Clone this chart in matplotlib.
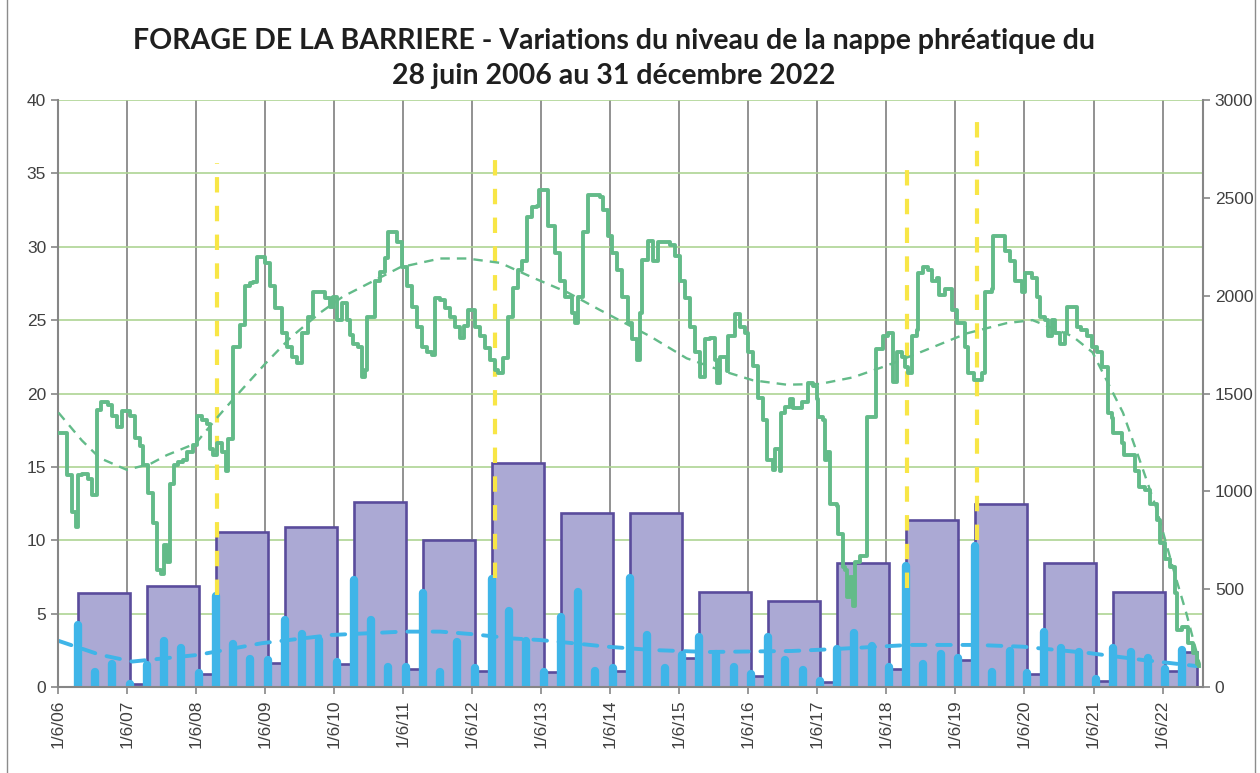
import numpy as np
import matplotlib
matplotlib.use('Agg')
import matplotlib.pyplot as plt
from matplotlib.lines import Line2D

# ---- data (x in decimal years) ----
TITLE = ('FORAGE DE LA BARRIERE - Variations du niveau de la nappe phréatique du\n'
         '28 juin 2006 au 31 décembre 2022')

year_ticks = list(range(2006, 2023))
tick_labels = ['1/6/%02d' % (y % 100) for y in year_ticks]

# water level (left axis), step changes
level_points = [
    (2006.42, 17.3), (2006.55, 14.45), (2006.62, 11.9), (2006.68, 10.9), (2006.71, 14.45),
    (2006.76, 14.5), (2006.85, 14.2), (2006.91, 13.1), (2006.98, 18.9), (2007.04, 19.4),
    (2007.14, 19.2), (2007.20, 18.5), (2007.27, 17.7), (2007.34, 18.8), (2007.46, 18.5),
    (2007.53, 17.0), (2007.60, 16.4), (2007.65, 15.1), (2007.72, 13.2), (2007.79, 11.2),
    (2007.85, 8.0), (2007.91, 7.7), (2007.95, 9.7), (2007.99, 8.5), (2008.04, 13.8),
    (2008.10, 15.1), (2008.15, 15.3), (2008.23, 15.5), (2008.28, 16.0), (2008.37, 16.5),
    (2008.43, 18.5), (2008.50, 18.2), (2008.57, 17.9), (2008.62, 16.2), (2008.66, 15.8),
    (2008.72, 16.6), (2008.79, 16.0), (2008.85, 14.7), (2008.88, 16.9), (2008.95, 23.2),
    (2009.05, 24.7), (2009.12, 27.3), (2009.20, 27.5), (2009.24, 27.6), (2009.30, 29.3),
    (2009.41, 28.9), (2009.49, 27.3), (2009.56, 25.8), (2009.66, 24.1), (2009.73, 23.2),
    (2009.80, 22.5), (2009.88, 22.1), (2009.95, 24.1), (2010.04, 25.2), (2010.11, 26.9),
    (2010.21, 26.9), (2010.28, 26.5), (2010.35, 25.9), (2010.40, 26.6), (2010.46, 25.0),
    (2010.53, 26.2), (2010.60, 25.0), (2010.64, 24.0), (2010.69, 23.4), (2010.76, 23.2),
    (2010.82, 21.1), (2010.86, 21.6), (2010.89, 25.2), (2011.01, 27.7), (2011.08, 28.3),
    (2011.15, 29.2), (2011.19, 31.0), (2011.32, 30.3), (2011.40, 28.6), (2011.47, 27.3),
    (2011.54, 25.9), (2011.61, 24.5), (2011.69, 23.2), (2011.76, 22.8), (2011.83, 22.6),
    (2011.87, 26.5), (2011.95, 26.4), (2012.02, 25.8), (2012.09, 25.2), (2012.16, 24.5),
    (2012.24, 23.8), (2012.30, 24.6), (2012.35, 25.7), (2012.45, 24.5), (2012.53, 23.9),
    (2012.60, 23.1), (2012.67, 22.3), (2012.74, 21.6), (2012.79, 21.4), (2012.86, 22.4),
    (2012.93, 25.2), (2013.00, 27.2), (2013.08, 28.4), (2013.13, 29.0), (2013.21, 32.0),
    (2013.28, 32.7), (2013.35, 32.8), (2013.38, 33.9), (2013.51, 31.4), (2013.61, 29.6),
    (2013.69, 27.7), (2013.76, 26.6), (2013.86, 25.5), (2013.90, 24.8), (2013.95, 26.6),
    (2014.02, 31.0), (2014.09, 33.5), (2014.27, 33.4), (2014.31, 32.5), (2014.38, 30.7),
    (2014.44, 29.6), (2014.51, 28.4), (2014.58, 26.6), (2014.67, 24.8), (2014.73, 23.7),
    (2014.80, 22.3), (2014.84, 25.5), (2014.87, 29.1), (2014.96, 30.4), (2015.03, 29.0),
    (2015.10, 30.3), (2015.28, 30.1), (2015.35, 29.4), (2015.42, 27.7), (2015.50, 26.5),
    (2015.57, 24.5), (2015.64, 22.8), (2015.71, 21.1), (2015.78, 23.7), (2015.86, 23.8),
    (2015.93, 22.3), (2015.96, 20.7), (2016.00, 22.5), (2016.10, 21.5), (2016.12, 23.9),
    (2016.22, 25.4), (2016.29, 24.5), (2016.36, 24.1), (2016.41, 22.8), (2016.48, 21.9),
    (2016.55, 19.7), (2016.62, 18.2), (2016.68, 15.5), (2016.77, 14.8), (2016.80, 16.2),
    (2016.87, 14.7), (2016.88, 18.7), (2016.94, 19.1), (2017.02, 19.6), (2017.06, 19.0),
    (2017.19, 19.4), (2017.28, 20.7), (2017.35, 20.5), (2017.41, 19.6), (2017.42, 18.4),
    (2017.49, 18.2), (2017.52, 15.5), (2017.56, 16.0), (2017.59, 12.5), (2017.70, 12.3),
    (2017.71, 10.4), (2017.78, 8.2), (2017.81, 8.0), (2017.84, 6.1), (2017.88, 7.5),
    (2017.93, 5.5), (2017.96, 8.5), (2018.03, 8.9), (2018.14, 18.4), (2018.27, 23.0),
    (2018.36, 23.9), (2018.43, 24.1), (2018.51, 20.8), (2018.57, 22.8), (2018.64, 22.5),
    (2018.68, 21.8), (2018.73, 21.4), (2018.78, 23.9), (2018.86, 24.3), (2018.87, 28.2),
    (2018.94, 28.6), (2019.01, 28.4), (2019.07, 27.7), (2019.14, 27.9), (2019.18, 26.7),
    (2019.26, 27.1), (2019.37, 25.7), (2019.43, 24.8), (2019.55, 23.2), (2019.59, 21.4),
    (2019.69, 20.9), (2019.80, 21.4), (2019.84, 26.9), (2019.94, 27.1), (2019.96, 30.7),
    (2020.13, 29.7), (2020.20, 29.0), (2020.27, 27.7), (2020.38, 26.9), (2020.42, 28.2),
    (2020.52, 27.9), (2020.59, 26.6), (2020.64, 25.2), (2020.71, 25.0), (2020.75, 23.9),
    (2020.81, 25.0), (2020.86, 24.1), (2020.93, 23.4), (2021.00, 24.1), (2021.03, 25.9),
    (2021.17, 24.5), (2021.24, 24.3), (2021.32, 23.9), (2021.39, 23.2), (2021.46, 22.8),
    (2021.53, 21.8), (2021.62, 18.7), (2021.68, 18.3), (2021.69, 17.3), (2021.82, 16.6),
    (2021.86, 15.8), (2022.01, 14.7), (2022.08, 13.6), (2022.16, 13.4), (2022.23, 12.5),
    (2022.33, 11.4), (2022.37, 9.8), (2022.45, 8.7), (2022.52, 8.2), (2022.59, 6.4),
    (2022.62, 3.9), (2022.69, 4.1), (2022.78, 3.0), (2022.86, 2.3), (2022.91, 1.6),
    (2022.94, 1.4),
]

# water level trend (dashed green)
level_trend = [
    (2006.42, 18.7), (2006.76, 16.8), (2007.02, 15.6), (2007.41, 14.8), (2007.75, 15.2),
    (2007.99, 15.8), (2008.41, 16.6), (2008.69, 18.2), (2008.95, 19.6), (2009.41, 22.0),
    (2009.78, 23.8), (2010.21, 25.5), (2010.54, 26.6), (2011.37, 28.6), (2011.95, 29.2),
    (2012.34, 29.2), (2012.82, 28.9), (2013.29, 27.9), (2013.79, 26.9), (2014.26, 25.7),
    (2014.99, 23.9), (2015.52, 22.4), (2016.00, 21.6), (2016.48, 20.9), (2016.97, 20.6),
    (2017.45, 20.65), (2017.93, 21.1), (2018.42, 21.9), (2018.90, 22.8), (2019.58, 24.1),
    (2020.16, 24.8), (2020.53, 25.0), (2021.11, 23.9), (2021.40, 22.8), (2021.84, 18.7),
    (2022.08, 15.5), (2022.33, 12.1), (2022.56, 8.2), (2022.76, 5.0), (2022.95, 1.6),
]

# quarterly rainfall (mm, right axis), first quarter mid-September 2006
FIRST_QUARTER = 2006.70
quarter_mm = [
    315, 79, 118, 15, 113, 236, 198, 74, 465, 218, 145, 138, 343, 270, 240, 128,
    548, 343, 104, 104, 479, 79, 232, 95, 551, 390, 237, 79, 356, 486, 82, 98,
    555, 266, 99, 164, 257, 167, 104, 67, 257, 138, 87, 31, 193, 275, 212, 101,
    619, 116, 169, 150, 720, 79, 184, 74, 283, 201, 181, 39, 201, 177, 150, 92, 189,
]

# rainfall trend (dashed blue, mm)
rain_trend = [
    (2006.42, 236), (2007.02, 165), (2007.49, 130), (2008.44, 164), (2009.37, 224),
    (2010.38, 266), (2011.41, 283), (2011.95, 283), (2012.42, 270), (2013.00, 248),
    (2013.40, 240), (2013.87, 224), (2014.37, 206), (2015.02, 189), (2015.83, 179),
    (2017.04, 184), (2017.62, 193), (2018.29, 206), (2018.75, 215), (2019.72, 215),
    (2020.39, 206), (2021.36, 173), (2022.13, 138), (2022.91, 107),
]

# seasonal totals (mm): wet season Sep-Jun, dry season Jun-Sep
wet_mm = [479, 518, 793, 818, 943, 749, 1144, 888, 888, 484, 442, 636, 851, 936, 636, 488]
dry_mm = [15, 65, 125, 120, 94, 83, 75, 83, 150, 56, 24, 92, 138, 67, 31, 83]
last_wet_mm = 177
RAIN_END = 2022.92

# notable events (yellow dashed markers)
event_t = [2008.72, 2012.74, 2018.71, 2019.73]
event_bottom = [6.3, 7.4, 6.75, 10.0]
event_top = [35.7, 36.3, 35.6, 38.9]

LEFT_MAX, RIGHT_MAX = 40, 3000
MM = LEFT_MAX / RIGHT_MAX

# ---- colours ----
C_GREEN = '#63bb89'
C_BLUE = '#3fb5e8'
C_PURPLE = '#aba9d4'
C_PURPLE_EDGE = '#5a4c9c'
C_YELLOW = '#f8e646'
C_GRID_H = '#aed494'
C_GRID_V = '#7f7f7f'
C_TEXT = '#404040'

plt.rcParams['font.family'] = ['Liberation Sans', 'DejaVu Sans']

fig = plt.figure(figsize=(12.6, 7.73), dpi=100)
ax = fig.add_axes([58 / 1260, 86 / 773, 1145 / 1260, 587 / 773])

quarters = FIRST_QUARTER + 0.25 * np.arange(len(quarter_mm))

# seasonal stairs
edges, values = [], []
for k in range(len(wet_mm)):
    edges += [quarters[4 * k], quarters[4 * k + 3]]
    values += [wet_mm[k], dry_mm[k]]
edges += [quarters[4 * len(wet_mm)], RAIN_END]
values += [last_wet_mm]
values = np.array(values) * MM

ax.stairs(values, edges, fill=True, facecolor=C_PURPLE, edgecolor='none', zorder=1)
ax.stairs(values, edges, fill=False, baseline=0, color=C_PURPLE_EDGE, lw=1.9, zorder=1.1)

bars = ax.vlines(quarters, 0, np.array(quarter_mm) * MM, colors=C_BLUE, lw=6, zorder=2)
bars.set_capstyle('round')

rt, rv = zip(*rain_trend)
ax.plot(rt, np.array(rv) * MM, color=C_BLUE, lw=2.8, ls=(0, (3.5, 3)), dash_capstyle='round', zorder=2.5)

ax.vlines(event_t, event_bottom, event_top, colors=C_YELLOW, lw=3, linestyles=(0, (3.7, 3.2)), zorder=3)

tt, tv = zip(*level_trend)
ax.plot(tt, tv, color=C_GREEN, lw=1.7, ls=(0, (4, 3)), zorder=3.5)

lt, lv = zip(*level_points)
ax.step(lt, lv, where='post', color=C_GREEN, lw=2.8, zorder=4)

# axes styling
ax.set_xlim(2006.414, 2023.0)
ax.set_ylim(0, LEFT_MAX)
ax.set_xticks([y + 0.414 for y in year_ticks])
ax.set_xticklabels(tick_labels, rotation=90)
ax.set_yticks(np.arange(0, 41, 5))
ax.set_axisbelow(True)
ax.grid(axis='y', color=C_GRID_H, lw=1.2)
ax.grid(axis='x', color=C_GRID_V, lw=1.2)
ax.tick_params(axis='both', colors=C_TEXT, labelsize=12.5, length=5, width=1.2, color='#868686')
ax.tick_params(axis='x', pad=4)
for side in ['top', 'right']:
    ax.spines[side].set_visible(False)
for side in ['left', 'bottom']:
    ax.spines[side].set_color('#868686')
    ax.spines[side].set_linewidth(1.5)

ax2 = ax.twinx()
ax2.set_ylim(0, RIGHT_MAX)
ax2.set_yticks(np.arange(0, 3001, 500))
ax2.tick_params(axis='y', colors=C_TEXT, labelsize=12.5, length=5, width=1.2, color='#868686')
for side in ['top', 'left', 'bottom']:
    ax2.spines[side].set_visible(False)
ax2.spines['right'].set_color('#868686')
ax2.spines['right'].set_linewidth(1.5)

fig.text(0.487, 0.924, TITLE, ha='center', va='center', fontsize=20.5,
         fontweight='bold', family=['Lato', 'DejaVu Sans'], color='#1f1f1f', linespacing=1.45)

# outer chart frame
for xf in [7 / 1260, 1255 / 1260]:
    fig.add_artist(Line2D([xf, xf], [0, 1], transform=fig.transFigure, color='#8c8c8c', lw=1))

fig.savefig('out.png', dpi=100)
